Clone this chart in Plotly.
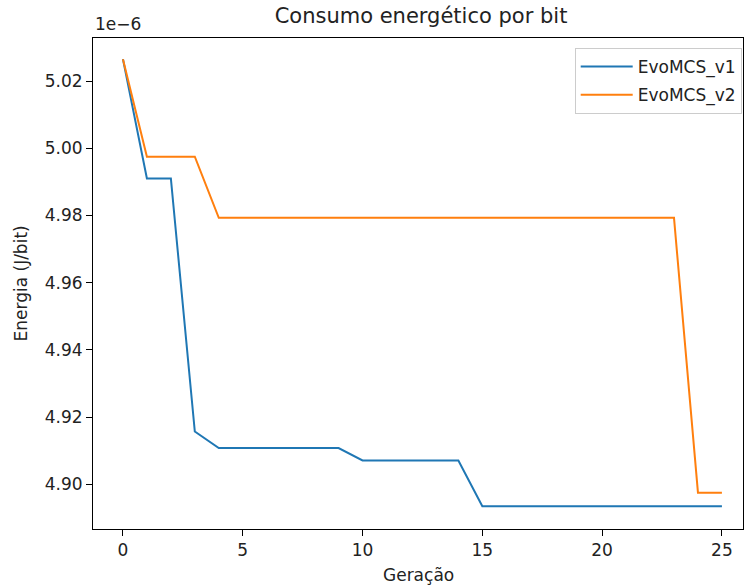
import plotly.graph_objects as go

# Data (energy in units of 1e-6 J/bit)
geracao = list(range(26))
evomcs_v1 = [5.0265, 4.9910, 4.9910, 4.9157] + [4.9108] * 6 + [4.9071] * 5 + [4.8935] * 11
evomcs_v2 = [5.0265, 4.9975, 4.9975, 4.9975] + [4.9793] * 20 + [4.8975] * 2
series_names = ["EvoMCS_v1", "EvoMCS_v2"]
x_ticks = [0, 5, 10, 15, 20, 25]
y_ticks = [4.90, 4.92, 4.94, 4.96, 4.98, 5.00, 5.02]

FONT = "DejaVu Sans"
fig = go.Figure()
fig.add_trace(go.Scatter(x=geracao, y=evomcs_v1, mode="lines", name=series_names[0],
                         legendgroup="a", line=dict(color="#1f77b4", width=2)))
fig.add_trace(go.Scatter(x=geracao, y=evomcs_v2, mode="lines", name=series_names[1],
                         legendgroup="b", line=dict(color="#ff7f0e", width=2)))

axis_common = dict(showgrid=False, zeroline=False, showline=True, linecolor="black",
                   linewidth=1, mirror=True, ticks="outside", ticklen=6, tickwidth=1,
                   tickcolor="black", tickfont=dict(family=FONT, size=17, color="#222"))
fig.update_xaxes(range=[-1.25, 25.88], tickvals=x_ticks, **axis_common)
fig.update_yaxes(range=[4.8867, 5.0328], tickvals=y_ticks, tickformat=".2f", **axis_common)

fig.update_layout(
    width=744, height=588,
    margin=dict(l=93, r=1, t=38, b=59, autoexpand=False),
    plot_bgcolor="white", paper_bgcolor="white",
    font=dict(family=FONT, size=17, color="#222"),
    title=dict(text="Consumo energético por bit", x=(421) / 744, xanchor="center",
               y=1 - 16 / 588, yanchor="middle", font=dict(family=FONT, size=21, color="#222")),
    legend=dict(x=0.998, xanchor="right", y=0.9796, yanchor="top",
                traceorder="grouped", tracegroupgap=3, itemwidth=52,
                bordercolor="#cccccc", borderwidth=1, bgcolor="rgba(255,255,255,0.8)",
                font=dict(family=FONT, size=17, color="#222")),
    showlegend=True,
    annotations=[
        dict(text="1e−6", xref="paper", yref="paper", x=0, y=1, xanchor="left",
             yanchor="bottom", yshift=2, showarrow=False, font=dict(family=FONT, size=17, color="#222")),
        dict(text="Geração", xref="paper", yref="paper", x=0.5, y=0, xanchor="center",
             yanchor="middle", yshift=-46, showarrow=False, font=dict(family=FONT, size=17, color="#222")),
        dict(text="Energia (J/bit)", xref="paper", yref="paper", x=0, y=0.5, xanchor="center",
             yanchor="middle", xshift=-73, textangle=-90, showarrow=False,
             font=dict(family=FONT, size=17, color="#222")),
    ],
)
fig.write_html("out.html")
